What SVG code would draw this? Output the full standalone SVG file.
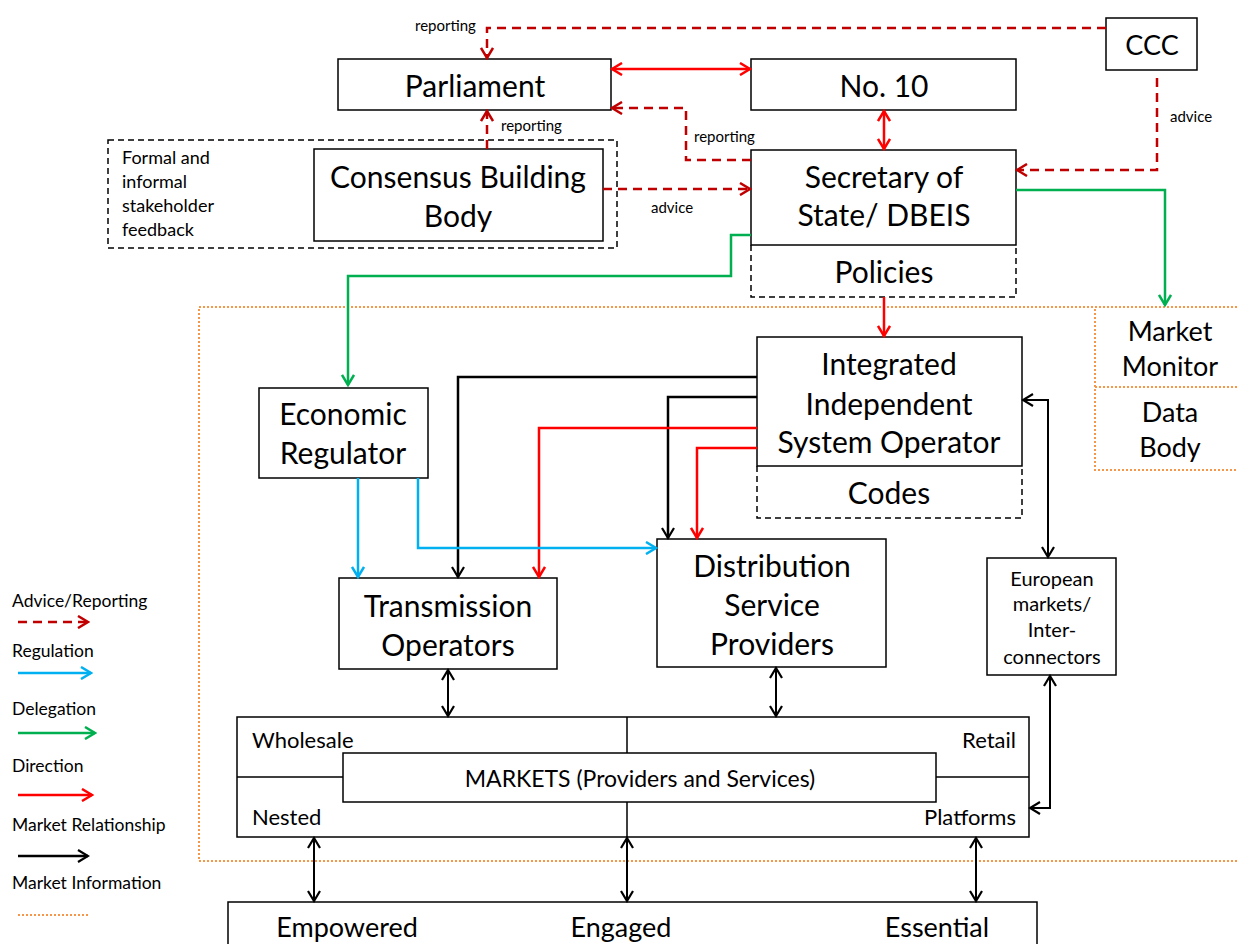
<svg xmlns="http://www.w3.org/2000/svg" width="1237" height="944" viewBox="0 0 1237 944">
<style>
text{font-family:Lato,"Open Sans",sans-serif;fill:#000}
.b{fill:#fff;stroke:#000;stroke-width:1.5}
.d{fill:none;stroke:#000;stroke-width:1.5;stroke-dasharray:6 4}
.t26{font-size:30px;text-anchor:middle}
.t24{font-size:27px;text-anchor:middle}
.t16{font-size:17.5px}
.t18{font-size:18px}
.t14{font-size:15px}
.t20{font-size:20px;text-anchor:middle}
.t22{font-size:22px}
.c{text-anchor:middle}
.dr{fill:none;stroke:#c00000;stroke-width:2.5;stroke-dasharray:9 6;marker-end:url(#mdr)}
.r{fill:none;stroke:#ff0000;stroke-width:2.5;marker-end:url(#mr)}
.bl{fill:none;stroke:#00b0f0;stroke-width:2.5;marker-end:url(#mb)}
.g{fill:none;stroke:#00b050;stroke-width:2.5;marker-end:url(#mg)}
.k{fill:none;stroke:#000;stroke-width:2.5;marker-end:url(#mk)}
.kk{fill:none;stroke:#000;stroke-width:2;marker-end:url(#mk);marker-start:url(#mk)}
.o{fill:none;stroke:#f79646;stroke-width:2;stroke-dasharray:2 2}
</style>
<defs>
<marker id="mdr" viewBox="0 0 14 14" refX="12" refY="7" markerWidth="14" markerHeight="14" markerUnits="userSpaceOnUse" orient="auto-start-reverse"><path d="M2,1 L12,7 L2,13" fill="none" stroke="#c00000" stroke-width="2.5"/></marker>
<marker id="mr" viewBox="0 0 14 14" refX="12" refY="7" markerWidth="14" markerHeight="14" markerUnits="userSpaceOnUse" orient="auto-start-reverse"><path d="M2,1 L12,7 L2,13" fill="none" stroke="#ff0000" stroke-width="2.5"/></marker>
<marker id="mb" viewBox="0 0 14 14" refX="12" refY="7" markerWidth="14" markerHeight="14" markerUnits="userSpaceOnUse" orient="auto-start-reverse"><path d="M2,1 L12,7 L2,13" fill="none" stroke="#00b0f0" stroke-width="2.5"/></marker>
<marker id="mg" viewBox="0 0 14 14" refX="12" refY="7" markerWidth="14" markerHeight="14" markerUnits="userSpaceOnUse" orient="auto-start-reverse"><path d="M2,1 L12,7 L2,13" fill="none" stroke="#00b050" stroke-width="2.5"/></marker>
<marker id="mk" viewBox="0 0 14 14" refX="12" refY="7" markerWidth="14" markerHeight="14" markerUnits="userSpaceOnUse" orient="auto-start-reverse"><path d="M2,1 L12,7 L2,13" fill="none" stroke="#000" stroke-width="2.2"/></marker>
</defs>
<rect width="1237" height="944" fill="#fff"/>

<g id="frame">
<path class="o" d="M1237,307 H199 V861 H1237"/>
</g>

<g id="stakeholder">
<rect class="d" x="108" y="140" width="509" height="108"/>
<text class="t18" x="122" y="164">Formal and</text>
<text class="t18" x="122" y="188">informal</text>
<text class="t18" x="122" y="212">stakeholder</text>
<text class="t18" x="122" y="236">feedback</text>
</g>

<g id="parliament"><rect class="b" x="338" y="59" width="273" height="51"/><text class="t26" x="475" y="97">Parliament</text></g>
<g id="no10"><rect class="b" x="751" y="59" width="265" height="51"/><text class="t26" x="884" y="97">No. 10</text></g>
<g id="ccc"><rect class="b" x="1106" y="18" width="91" height="52"/><text class="t24" x="1152" y="55">CCC</text></g>
<g id="consensus"><rect class="b" x="314" y="149" width="289" height="92"/><text class="t26" x="458" y="188">Consensus Building</text><text class="t26" x="458" y="227">Body</text></g>
<g id="secretary"><rect class="b" x="751" y="150" width="265" height="95"/><text class="t26" x="884" y="188">Secretary of</text><text class="t26" x="884" y="226">State/ DBEIS</text></g>
<g id="policies"><path class="d" d="M751,245 V297 H1016 V245"/><text class="t26" x="884" y="283">Policies</text></g>

<g id="marketmonitor">
<path class="o" d="M1237,307 H1095 V470 H1237"/>
<path class="o" d="M1095,387 H1237"/>
<text class="t24" x="1170" y="341">Market</text>
<text class="t24" x="1170" y="376">Monitor</text>
<text class="t24" x="1170" y="422">Data</text>
<text class="t24" x="1170" y="457">Body</text>
</g>

<g id="isso"><rect class="b" x="757" y="337" width="265" height="129"/><text class="t26" x="889" y="375">Integrated</text><text class="t26" x="889" y="415">Independent</text><text class="t26" x="889" y="453">System Operator</text></g>
<g id="codes"><path class="d" d="M757,466 V518 H1022 V466"/><text class="t26" x="889" y="504">Codes</text></g>
<g id="econreg"><rect class="b" x="259" y="388" width="169" height="90"/><text class="t26" x="343" y="425">Economic</text><text class="t26" x="343" y="464">Regulator</text></g>
<g id="transmission"><rect class="b" x="339" y="578" width="218" height="91"/><text class="t26" x="448" y="617">Transmission</text><text class="t26" x="448" y="656">Operators</text></g>
<g id="distribution"><rect class="b" x="657" y="539" width="229" height="128"/><text class="t26" x="772" y="577">Distribution</text><text class="t26" x="772" y="616">Service</text><text class="t26" x="772" y="655">Providers</text></g>
<g id="european"><rect class="b" x="987" y="558" width="129" height="117"/>
<text class="t20" x="1052" y="586">European</text><text class="t20" x="1052" y="611">markets/</text><text class="t20" x="1052" y="637">Inter-</text><text class="t20" x="1052" y="664">connectors</text></g>

<g id="markets">
<rect class="b" x="237" y="717" width="792" height="120"/>
<path d="M627,717 V837 M237,777 H1029" stroke="#000" stroke-width="1.5"/>
<rect class="b" x="343" y="753" width="593" height="49"/>
<text class="c" x="640" y="787" font-size="23">MARKETS (Providers and Services)</text>
<text class="t22" x="252" y="748">Wholesale</text>
<text class="t22" x="1016" y="748" text-anchor="end">Retail</text>
<text class="t22" x="252" y="825">Nested</text>
<text class="t22" x="1016" y="825" text-anchor="end">Platforms</text>
</g>

<g id="consumers">
<rect class="b" x="228" y="902" width="809" height="50"/>
<text class="t24" x="347" y="937">Empowered</text>
<text class="t24" x="621" y="937">Engaged</text>
<text class="t24" x="937" y="937">Essential</text>
</g>

<g id="connectors">
<path class="dr" d="M1106,28 H487 V58"/>
<text class="t14" x="415" y="31">reporting</text>
<path class="dr" d="M1157,78 V170 H1017"/>
<text class="t14" x="1170" y="122">advice</text>
<path class="r" style="marker-start:url(#mr)" d="M612,69 H750"/>
<path class="dr" d="M751,160 H686 V108 H612"/>
<text class="t14" x="694" y="142">reporting</text>
<path class="dr" d="M487,149 V111"/>
<text class="t14" x="501" y="131">reporting</text>
<path class="dr" d="M603,189 H750"/>
<text class="t14" x="651" y="213">advice</text>
<path class="r" style="marker-start:url(#mr)" d="M884,111 V149"/>
<path class="g" d="M751,235 H731 V276 H348 V385"/>
<path class="g" d="M1016,190 H1165 V305"/>
<path class="r" d="M884,297 V336"/>
<path class="k" d="M757,377 H458 V577"/>
<path class="k" d="M757,397 H668 V538"/>
<path class="r" d="M757,428 H539 V577"/>
<path class="r" d="M757,448 H697 V538"/>
<path class="bl" d="M358,478 V577"/>
<path class="bl" d="M418,478 V548 H656"/>
<path class="kk" d="M1023,400 H1048 V557"/>
<path class="kk" d="M448,670 V716"/>
<path class="kk" d="M776,668 V716"/>
<path class="kk" d="M1050,676 V808 H1030"/>
<path class="kk" d="M314,838 V901"/>
<path class="kk" d="M627,838 V901"/>
<path class="kk" d="M976,838 V901"/>
</g>

<g id="legend">
<text class="t16" x="12" y="607">Advice/Reporting</text>
<path class="dr" d="M18,622 H88"/>
<text class="t16" x="12" y="657">Regulation</text>
<path class="bl" d="M18,673 H91"/>
<text class="t16" x="12" y="715">Delegation</text>
<path class="g" d="M18,733 H95"/>
<text class="t16" x="12" y="772">Direction</text>
<path class="r" d="M18,795 H92"/>
<text class="t16" x="12" y="831">Market Relationship</text>
<path class="k" d="M18,856 H88"/>
<text class="t16" x="12" y="889">Market Information</text>
<path class="o" d="M18,915 H88"/>
</g>
</svg>
